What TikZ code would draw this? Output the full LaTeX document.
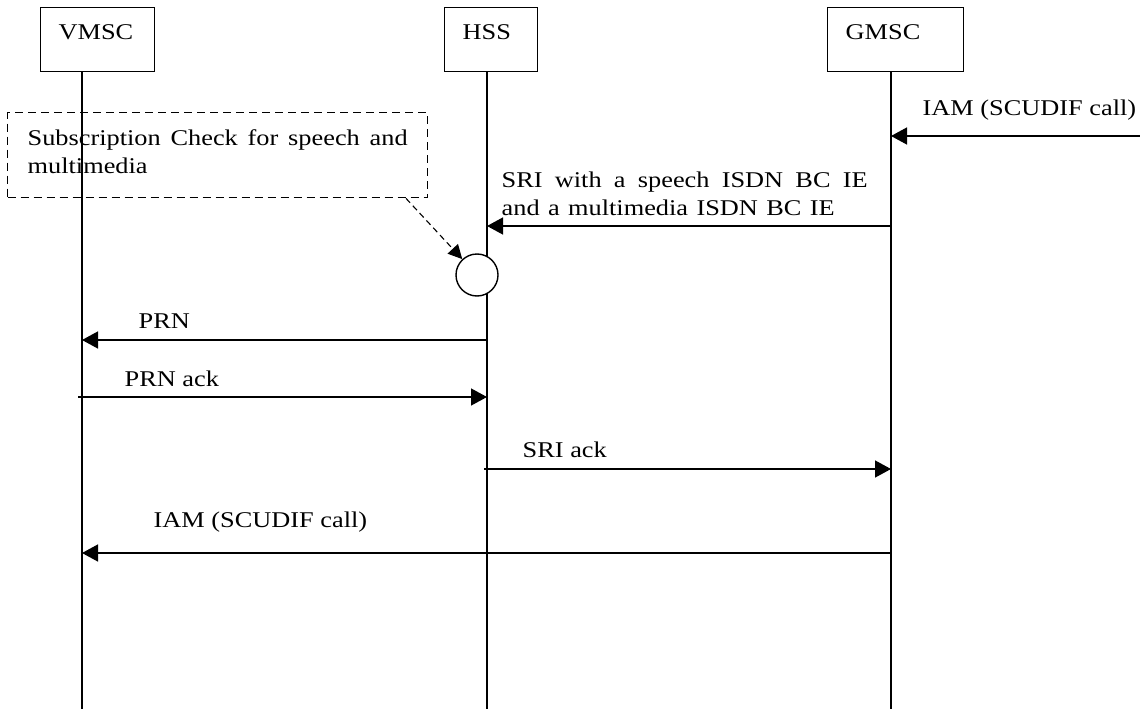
\documentclass[tikz,border=0pt]{standalone}
\usepackage{fontspec}
\setmainfont{Liberation Serif}[FakeStretch=1.17]
\usetikzlibrary{arrows.meta}
\begin{document}
\begin{tikzpicture}[x=1pt,y=-1pt,line width=1.4pt,
  font=\fontsize{22.5}{28}\selectfont,
  entity/.style={draw,anchor=north west,minimum height=64pt,inner sep=0pt},
  txt/.style={anchor=base west,inner sep=0pt},
  msg/.style={-{Triangle[length=16pt,width=17pt]}},
  notebox/.style={draw,dash pattern=on 8pt off 5pt,anchor=north west,inner sep=0pt},
  hint/.style={dash pattern=on 6pt off 4pt,line width=1.1pt,-{Triangle[length=14pt,width=14pt]}}]
\useasboundingbox (0,0) rectangle (1140,709);

% entities
\node[entity,minimum width=114pt] (vmsc) at (40,7) {};
\node[entity,minimum width=93pt]  (hss)  at (444,7) {};
\node[entity,minimum width=136pt] (gmsc) at (827,7) {};
\node[txt] (vmscL) at (58,40)  {VMSC};
\node[txt] (hssL)  at (462,40) {HSS};
\node[txt] (gmscL) at (845,40) {GMSC};

% lifelines
\coordinate (vend) at (82,709);
\coordinate (hend) at (487,709);
\coordinate (gend) at (891,709);
\draw (vmsc.south -| vend) -- (vend);
\draw (hss.south -| hend) -- (hend);
\draw (gmsc.south -| gend) -- (gend);

% incoming IAM
\coordinate (extIn) at (1140,136);
\draw[msg] (extIn) -- (gend |- extIn);
\node[txt] (iamInL) at (922,115) {IAM (SCUDIF call)};

% subscription check note
\node[notebox,minimum width=420pt,minimum height=85pt] (note) at (7,112) {};
\node[txt] (noteL1) at (27,145) {\makebox[380pt][s]{Subscription Check for speech and}};
\node[txt] (noteL2) at (27,173) {multimedia};

% SRI
\draw[msg] (gend |- 0,226) -- (hend |- 0,226);
\node[txt] (sriL1) at (501,187) {\makebox[366pt][s]{SRI with a speech ISDN BC IE}};
\node[txt] (sriL2) at (501,215) {\makebox[333pt][s]{and a multimedia ISDN BC IE}};

% check in HSS
\node[circle,draw,fill=white,minimum size=42pt,inner sep=0pt] (chk) at (477,275) {};
\draw[hint] (note.south -| 406,0) -- (chk);

% PRN
\draw[msg] (hend |- 0,340) -- (vend |- 0,340);
\node[txt] (prnL) at (138,328) {PRN};

% PRN ack
\draw[msg] (78,397) -- (hend |- 0,397);
\node[txt] (prnAckL) at (124,386) {PRN ack};

% SRI ack
\draw[msg] (484,469) -- (gend |- 0,469);
\node[txt] (sriAckL) at (522,457) {SRI ack};

% outgoing IAM
\draw[msg] (gend |- 0,553) -- (vend |- 0,553);
\node[txt] (iamOutL) at (153,527) {IAM (SCUDIF call)};
\end{tikzpicture}
\end{document}
